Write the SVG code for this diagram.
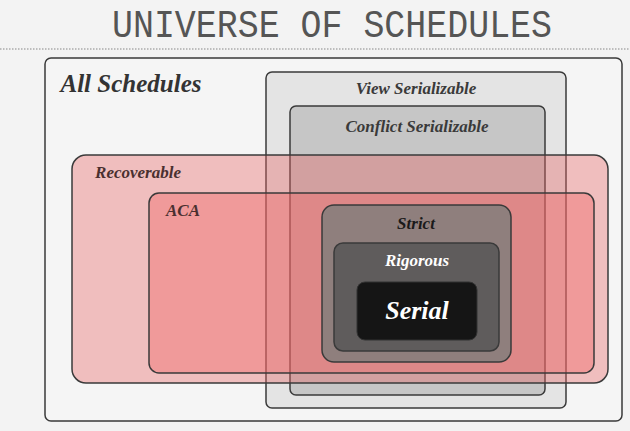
<svg xmlns="http://www.w3.org/2000/svg" width="630" height="431" viewBox="0 0 630 431">
<style>
.b{stroke:#3a3a3a;stroke-width:1.5}
.l{font-family:"Liberation Serif",serif;font-style:italic;font-weight:bold;text-anchor:middle}
</style>
<rect width="630" height="431" fill="#f3f3f3"/>
<text x="332" y="37" font-family="Liberation Mono,monospace" font-size="38" fill="#555" text-anchor="middle" textLength="440" lengthAdjust="spacingAndGlyphs">UNIVERSE OF SCHEDULES</text>
<line x1="0" y1="49" x2="630" y2="49" stroke="#888" stroke-width="1.2" stroke-dasharray="1.5,1.5"/>
<g id="all"><rect class="b" x="45" y="58" width="577" height="363" rx="6" fill="#f5f5f5"/>
<text class="l" x="131" y="92" font-size="25" fill="#333">All Schedules</text></g>
<g id="view"><rect class="b" x="266" y="72" width="300" height="336" rx="6" fill="#e4e4e4"/>
<text class="l" x="416" y="94" font-size="17" fill="#3a3a3a">View Serializable</text></g>
<g id="conflict"><rect class="b" x="290" y="106" width="255" height="289" rx="6" fill="#c6c6c6"/>
<text class="l" x="417" y="132" font-size="17" fill="#3a3a3a">Conflict Serializable</text></g>
<g id="recoverable"><rect class="b" x="72" y="155" width="536" height="228" rx="14" fill="rgba(232,100,100,0.38)"/>
<text class="l" x="138" y="178" font-size="17" fill="#4a3030">Recoverable</text></g>
<g id="aca"><rect class="b" x="149" y="193" width="445" height="180" rx="10" fill="rgba(240,100,100,0.4)"/>
<text class="l" x="183" y="216" font-size="17" fill="#4a3030">ACA</text></g>
<g id="strict"><rect class="b" x="322" y="205" width="189" height="157" rx="12" fill="#8f7f7d"/>
<text class="l" x="416" y="229" font-size="17" fill="#1a1a1a">Strict</text></g>
<g id="rigorous"><rect class="b" x="334" y="243" width="165" height="108" rx="9" fill="#5f5c5c"/>
<text class="l" x="417" y="266" font-size="17" fill="#fff">Rigorous</text></g>
<g id="serial"><rect x="357" y="282" width="120" height="58" rx="8" fill="#151515" stroke="#333"/>
<text class="l" x="417" y="319" font-size="26" fill="#fff">Serial</text></g>
<g id="connectors"/>
</svg>
